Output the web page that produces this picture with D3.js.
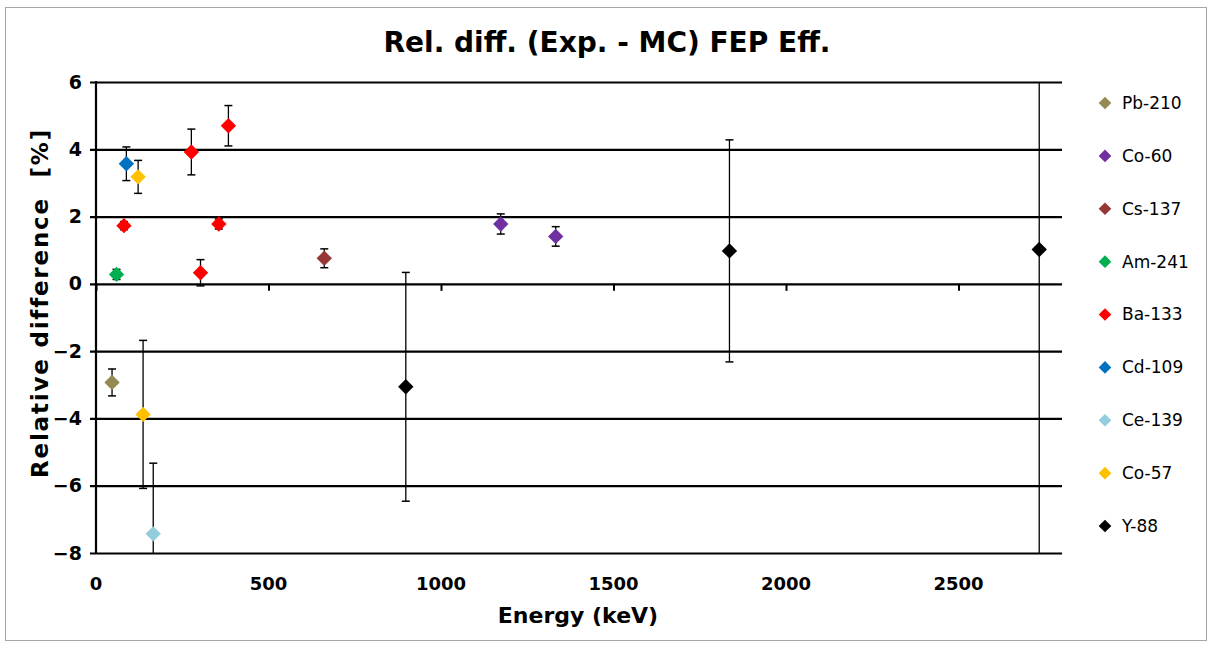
<!DOCTYPE html>
<html>
<head>
<meta charset="utf-8">
<script src="https://cdn.jsdelivr.net/npm/d3@7"></script>
<style>
  html, body { margin: 0; padding: 0; background: #fff; }
  svg { display: block; }
</style>
</head>
<body>
<svg id="chart" width="1208" height="645"></svg>
<script>
// Nuclide names, legend order and marker colours
const nuclides = ["Pb-210", "Co-60", "Cs-137", "Am-241", "Ba-133", "Cd-109", "Ce-139", "Co-57", "Y-88"];
const colors = ["#948A54", "#7030A0", "#953735", "#00B050", "#FF0000", "#0070C0", "#92CDDC", "#FFC000", "#000000"];

// Gamma-line energies (keV) per nuclide
const energyPb210 = [46.5];
const energyCo60 = [1173.2, 1332.5];
const energyCs137 = [661.7];
const energyAm241 = [59.5];
const energyBa133 = [81.0, 276.4, 302.9, 356.0, 383.8];
const energyCd109 = [88.0];
const energyCe139 = [165.9];
const energyCo57 = [122.1, 136.5];
const energyY88 = [898.0, 1836.1, 2734.0];

// Relative difference (Exp. - MC) in %
const diffPb210 = [-2.93];
const diffCo60 = [1.78, 1.41];
const diffCs137 = [0.76];
const diffAm241 = [0.28];
const diffBa133 = [1.73, 3.92, 0.33, 1.78, 4.70];
const diffCd109 = [3.57];
const diffCe139 = [-7.43];
const diffCo57 = [3.18, -3.88];
const diffY88 = [-3.06, 0.98, 1.02];

// Uncertainties (%) drawn as error bars
const errPb210 = [0.40];
const errCo60 = [0.30, 0.29];
const errCs137 = [0.28];
const errAm241 = [0.15];
const errBa133 = [0.12, 0.68, 0.39, 0.15, 0.60];
const errCd109 = [0.50];
const errCe139 = [2.10];
const errCo57 = [0.49, 2.20];
const errY88 = [3.40, 3.30, 9.50];

// Axis ticks
const xTicks = [0, 500, 1000, 1500, 2000, 2500];
const yTicks = [-8, -6, -4, -2, 0, 2, 4, 6];

const seriesEnergy = [energyPb210, energyCo60, energyCs137, energyAm241, energyBa133, energyCd109, energyCe139, energyCo57, energyY88];
const seriesDiff = [diffPb210, diffCo60, diffCs137, diffAm241, diffBa133, diffCd109, diffCe139, diffCo57, diffY88];
const seriesErr = [errPb210, errCo60, errCs137, errAm241, errBa133, errCd109, errCe139, errCo57, errY88];

const series = nuclides.map((name, i) => ({
  name,
  color: colors[i],
  points: seriesEnergy[i].map((e, j) => ({ e, v: seriesDiff[i][j], err: seriesErr[i][j] }))
}));

// Plot order: later series sit on top
const drawOrder = ["Y-88", "Pb-210", "Am-241", "Ba-133", "Cd-109", "Co-57", "Ce-139", "Cs-137", "Co-60"];

const svg = d3.select("#chart");
const font = "'DejaVu Sans', Verdana, sans-serif";

// Chart frame
svg.append("rect")
  .attr("x", 5.5).attr("y", 7.5)
  .attr("width", 1201).attr("height", 633)
  .attr("fill", "#fff")
  .attr("stroke", "#a6a6a6").attr("stroke-width", 1);

const plot = { left: 96, right: 1062, top: 82, bottom: 553 };

const x = d3.scaleLinear().domain([0, 2800]).range([plot.left, plot.right]);
const y = d3.scaleLinear().domain([-8, 6]).range([plot.bottom, plot.top]);

svg.append("defs").append("clipPath").attr("id", "plotClip")
  .append("rect")
  .attr("x", plot.left).attr("y", plot.top)
  .attr("width", plot.right - plot.left).attr("height", plot.bottom - plot.top);

// Horizontal gridlines with left tick marks and labels (y axis)
const yAxis = d3.axisLeft(y)
  .tickValues(yTicks)
  .tickSize(-(plot.right - plot.left))
  .tickSizeOuter(0)
  .tickPadding(14)
  .tickFormat(d3.format("d"));

const gy = svg.append("g")
  .attr("transform", `translate(${plot.left},0)`)
  .call(yAxis);
gy.select(".domain").remove();
gy.selectAll(".tick line")
  .attr("x1", -6)
  .attr("stroke", "#000").attr("stroke-width", 2.2);
gy.selectAll(".tick text")
  .attr("font-family", font).attr("font-weight", "bold")
  .attr("font-size", 19).attr("fill", "#000");

// Vertical axis line
svg.append("line")
  .attr("x1", plot.left).attr("x2", plot.left)
  .attr("y1", plot.top - 1).attr("y2", plot.bottom + 1)
  .attr("stroke", "#000").attr("stroke-width", 2.2);

// X axis: tick marks sit on the zero line, labels below the plot
const gx = svg.append("g")
  .attr("transform", `translate(0,${y(0)})`)
  .call(d3.axisBottom(x).tickValues(xTicks).tickSize(7).tickSizeOuter(0).tickFormat(""));
gx.select(".domain").remove();
gx.selectAll(".tick line").attr("stroke", "#000").attr("stroke-width", 2);

svg.append("g")
  .selectAll("text")
  .data(xTicks)
  .join("text")
  .attr("x", d => x(d))
  .attr("y", 590)
  .attr("text-anchor", "middle")
  .attr("font-family", font).attr("font-weight", "bold")
  .attr("font-size", 18).attr("fill", "#000")
  .text(d => d);

// Titles
svg.append("text")
  .attr("x", 607).attr("y", 52)
  .attr("text-anchor", "middle")
  .attr("font-family", font).attr("font-weight", "bold")
  .attr("font-size", 28).attr("fill", "#000")
  .text("Rel. diff. (Exp. - MC) FEP Eff.");

svg.append("text")
  .attr("x", 578).attr("y", 623)
  .attr("text-anchor", "middle")
  .attr("font-family", font).attr("font-weight", "bold")
  .attr("font-size", 22).attr("fill", "#000")
  .text("Energy (keV)");

svg.append("text")
  .attr("transform", "translate(48,303) rotate(-90)")
  .attr("text-anchor", "middle")
  .attr("font-family", font).attr("font-weight", "bold")
  .attr("font-size", 23).attr("fill", "#000")
  .style("white-space", "pre")
  .attr("letter-spacing", 1.8)
  .text("Relative difference  [%]");

// Data: error bars and diamond markers
const diamond = d3.symbol().type(d3.symbolSquare).size(118);
const dataLayer = svg.append("g").attr("clip-path", "url(#plotClip)");
const cap = 4;

drawOrder.forEach(name => {
  const s = series.find(d => d.name === name);
  const g = dataLayer.append("g");
  s.points.forEach(p => {
    const yTop = y(p.v + p.err), yBot = y(p.v - p.err), cx = x(p.e);
    g.append("line")
      .attr("x1", cx).attr("x2", cx).attr("y1", yTop).attr("y2", yBot)
      .attr("stroke", "#000").attr("stroke-width", 1.3);
    [yTop, yBot].forEach(yy => {
      g.append("line")
        .attr("x1", cx - cap).attr("x2", cx + cap).attr("y1", yy).attr("y2", yy)
        .attr("stroke", "#000").attr("stroke-width", 1.5);
    });
  });
  g.selectAll("path.pt")
    .data(s.points)
    .join("path")
    .attr("class", "pt")
    .attr("d", diamond)
    .attr("transform", p => `translate(${x(p.e)},${y(p.v)}) rotate(45)`)
    .attr("fill", s.color);
});

// Legend
const legend = svg.append("g");
const legendRow = d3.scaleLinear().domain([0, 8]).range([103, 526]);
series.forEach((s, i) => {
  const ly = legendRow(i);
  legend.append("path")
    .attr("d", d3.symbol().type(d3.symbolSquare).size(80))
    .attr("transform", `translate(1105,${ly}) rotate(45)`)
    .attr("fill", s.color);
  legend.append("text")
    .attr("x", 1122).attr("y", ly)
    .attr("dy", "0.35em")
    .attr("font-family", font)
    .attr("font-size", 17).attr("fill", "#000")
    .text(s.name);
});
</script>
</body>
</html>
